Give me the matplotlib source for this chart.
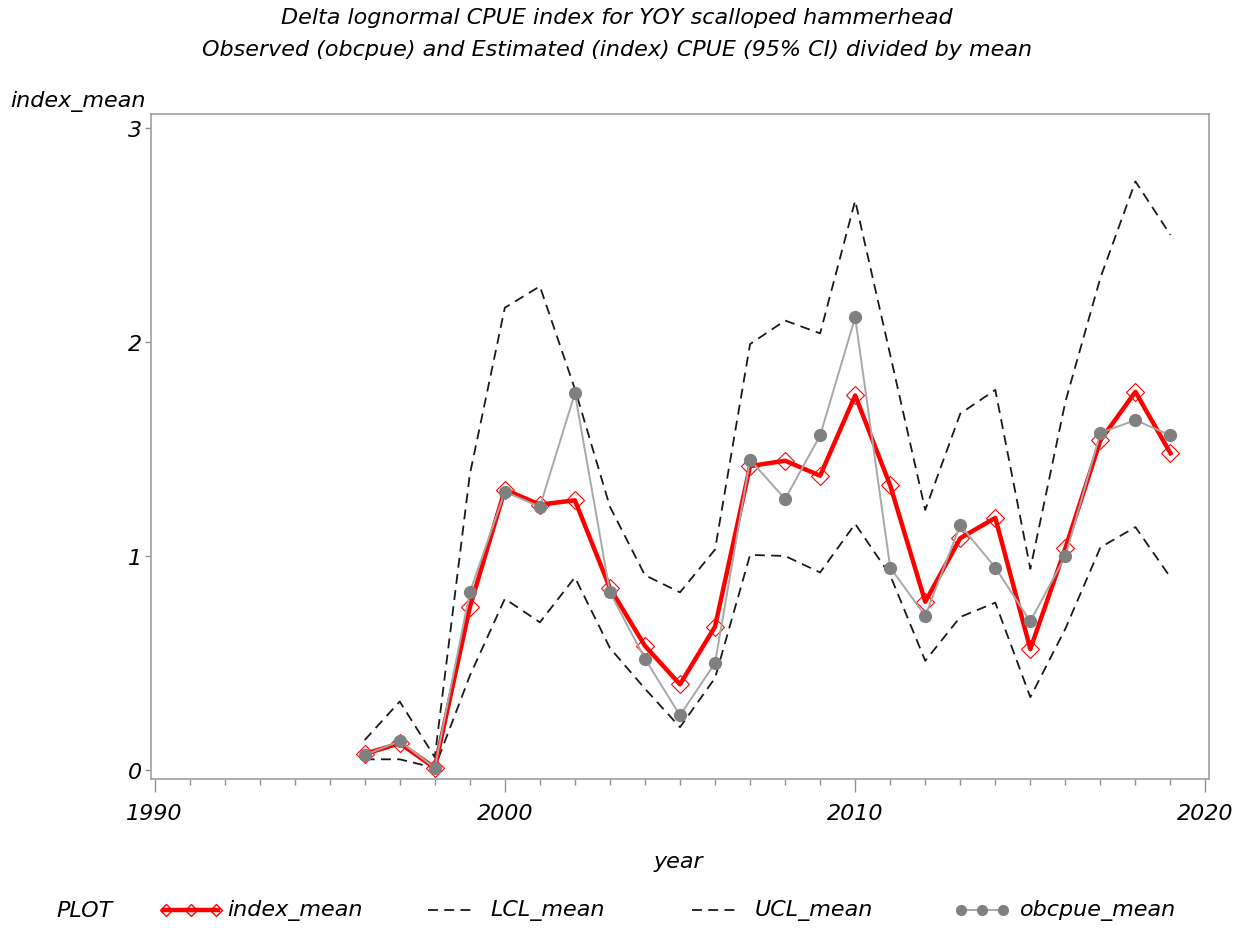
import matplotlib
matplotlib.use("Agg")
import matplotlib.pyplot as plt
from matplotlib.lines import Line2D
from matplotlib.ticker import MultipleLocator

years = list(range(1996, 2020))
index_mean = [0.075, 0.125, 0.01, 0.76, 1.31, 1.24, 1.26, 0.85, 0.58, 0.40, 0.67, 1.42,
              1.445, 1.375, 1.75, 1.33, 0.786, 1.083, 1.178, 0.565, 1.036, 1.54, 1.767, 1.48]
obcpue_mean = [0.07, 0.135, 0.01, 0.83, 1.30, 1.23, 1.76, 0.83, 0.52, 0.255, 0.50, 1.45,
               1.266, 1.563, 2.115, 0.946, 0.72, 1.144, 0.946, 0.694, 1.0, 1.575, 1.635, 1.563]
UCL_mean = [0.14, 0.32, 0.06, 1.38, 2.16, 2.26, 1.78, 1.23, 0.91, 0.83, 1.03, 1.99,
            2.10, 2.04, 2.66, 1.94, 1.215, 1.665, 1.776, 0.94, 1.72, 2.30, 2.75, 2.50]
LCL_mean = [0.05, 0.05, 0.01, 0.44, 0.80, 0.69, 0.90, 0.57, 0.38, 0.20, 0.43, 1.005,
            1.0, 0.923, 1.15, 0.91, 0.51, 0.715, 0.782, 0.34, 0.66, 1.04, 1.135, 0.90]

title1 = "Delta lognormal CPUE index for YOY scalloped hammerhead"
title2 = "Observed (obcpue) and Estimated (index) CPUE (95% CI) divided by mean"
xticks = [1990, 2000, 2010, 2020]
yticks = [0, 1, 2, 3]

FONT = ['DejaVu Sans']
plt.rcParams['font.family'] = FONT
plt.rcParams['font.style'] = 'italic'
FS = 16

W, H = 1242, 929
fig = plt.figure(figsize=(W / 100, H / 100), dpi=100)
ax = fig.add_axes([151 / W, 1 - 780 / H, (1209 - 151) / W, (780 - 115) / H])

RED = '#ff0000'
GRAY = '#808080'
dash = (0, (5.5, 3.5))
ax.plot(years, LCL_mean, color='#1a1a1a', lw=1.3, linestyle=dash, zorder=2)
ax.plot(years, UCL_mean, color='#1a1a1a', lw=1.3, linestyle=dash, zorder=2)
ax.plot(years, index_mean, color=RED, lw=3.2, marker='D', markersize=9.5,
        markerfacecolor='none', markeredgecolor=RED, markeredgewidth=0.8, zorder=3)
ax.plot(years, obcpue_mean, color='#a8a8a8', lw=1.4, marker='o', markersize=8.5,
        markerfacecolor=GRAY, markeredgecolor=GRAY, zorder=4)

ax.set_xlim(1989.9, 2020.1)
ax.set_ylim(-0.042, 3.065)
ax.set_xticks(xticks)
ax.xaxis.set_minor_locator(MultipleLocator(1))
ax.set_yticks(yticks)
for s in ax.spines.values():
    s.set_color('#a0a0a0')
    s.set_linewidth(1.2)
ax.tick_params(axis='x', which='major', length=9, width=1, color='#909090',
               labelsize=FS, pad=8)
ax.tick_params(axis='x', which='minor', length=4.5, width=1, color='#909090')
ax.tick_params(axis='y', which='major', length=4.5, width=1, color='#909090',
               labelsize=FS, pad=2)
for lab in ax.get_xticklabels() + ax.get_yticklabels():
    lab.set_fontstyle('italic')

fig.text(617 / W, 1 - 18 / H, title1, ha='center', va='center', fontsize=FS, style='italic')
fig.text(617 / W, 1 - 50 / H, title2, ha='center', va='center', fontsize=FS, style='italic')
fig.text(10 / W, 1 - 101 / H, "index_mean", ha='left', va='center', fontsize=FS, style='italic')
fig.text(678 / W, 1 - 862 / H, "year", ha='center', va='center', fontsize=FS, style='italic')

# legend
ly = 1 - 911 / H
fig.text(56 / W, ly, "PLOT", ha='left', va='center', fontsize=FS, style='italic')
def sample(x0, x1, **kw):
    fig.add_artist(Line2D([x0 / W, x1 / W], [ly, ly], transform=fig.transFigure, **kw))
sample(164, 218, color=RED, lw=3.2)
fig.add_artist(Line2D([166 / W, 191 / W, 216 / W], [ly] * 3, transform=fig.transFigure,
                      lw=0, marker='D', markersize=6, markerfacecolor='none',
                      markeredgecolor=RED))
fig.text(227 / W, ly, "index_mean", ha='left', va='center', fontsize=FS, style='italic')
sample(428, 476, color='#1a1a1a', lw=1.3, linestyle=dash)
fig.text(490 / W, ly, "LCL_mean", ha='left', va='center', fontsize=FS, style='italic')
sample(692, 740, color='#1a1a1a', lw=1.3, linestyle=dash)
fig.text(755 / W, ly, "UCL_mean", ha='left', va='center', fontsize=FS, style='italic')
sample(958, 1005, color='#a8a8a8', lw=1.4)
fig.add_artist(Line2D([961 / W, 982 / W, 1003 / W], [ly] * 3, transform=fig.transFigure,
                      lw=0, marker='o', markersize=7, markerfacecolor=GRAY,
                      markeredgecolor=GRAY))
fig.text(1020 / W, ly, "obcpue_mean", ha='left', va='center', fontsize=FS, style='italic')

fig.savefig("out.png", dpi=100)
